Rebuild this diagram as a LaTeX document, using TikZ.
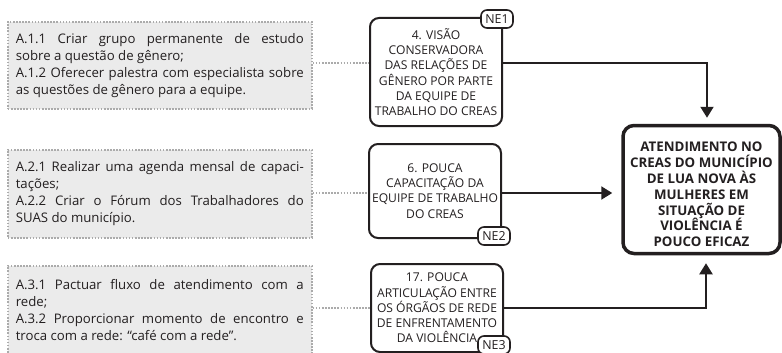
\documentclass[tikz,border=0pt]{standalone}
\usepackage{fontspec}
\setmainfont{Open Sans}
\usetikzlibrary{arrows.meta,calc}
\definecolor{boxgray}{HTML}{EBEBEB}
\definecolor{dotgray}{HTML}{ABABAB}
\definecolor{ink}{HTML}{231F20}
\begin{document}
\begin{tikzpicture}[x=1pt,y=-1pt,
  actbox/.style={draw=dotgray, fill=boxgray, line width=1.6pt, dash pattern=on 1.6pt off 1.5pt,
    anchor=north west, minimum width=304pt, text width=288pt, inner xsep=8pt, inner ysep=2pt,
    align=justify, text=ink, font=\fontsize{13.2}{17}\selectfont},
  nebox/.style={draw=ink, line width=2pt, rounded corners=9pt, anchor=north west,
    minimum width=132pt, align=center, inner sep=0.5pt, text=ink,
    font=\fontsize{12.1}{15.3}\selectfont},
  tagbox/.style={draw=ink, line width=1.6pt, fill=white, rounded corners=6pt,
    minimum width=32pt, minimum height=18pt, inner sep=0pt, text=ink,
    font=\fontsize{12.4}{12}\selectfont},
  mainbox/.style={draw=ink, line width=3.5pt, rounded corners=11pt,
    minimum width=157pt, minimum height=128pt, inner sep=0pt},
  maintext/.style={align=center, text=ink, font=\fontsize{13.3}{15.8}\selectfont\bfseries},
  dotline/.style={draw=dotgray, line width=1.6pt, dash pattern=on 1.6pt off 1.5pt},
  arr/.style={draw=ink, line width=2pt, -{Triangle[width=13pt,length=11pt]}}
]
\useasboundingbox (0,0) rectangle (782,353);

% left action boxes
\node[actbox, minimum height=87pt] (a1) at (7,21)
  {A.1.1 Criar grupo permanente de estudo\linebreak
   sobre a questão de gênero;\\
   A.1.2 Oferecer palestra com especialista sobre\linebreak
   as questões de gênero para a equipe.};
\node[actbox, minimum height=88pt] (a2) at (7,149)
  {A.2.1 Realizar uma agenda mensal de capaci-\linebreak
   tações;\\
   A.2.2 Criar o Fórum dos Trabalhadores do\linebreak
   SUAS do município.};
\node[actbox, minimum height=88pt] (a3) at (7,265)
  {A.3.1 Pactuar fluxo de atendimento com a\linebreak
   rede;\\
   A.3.2 Proporcionar momento de encontro e\linebreak
   troca com a rede: “café com a rede”.};

% problem nodes
\node[nebox, minimum height=108pt] (n1) at (369,17)
  {4. VISÃO\\CONSERVADORA\\DAS RELAÇÕES DE\\GÊNERO POR PARTE\\DA EQUIPE DE\\TRABALHO DO CREAS};
\node[nebox, minimum height=94pt] (n2) at (368,143)
  {6. POUCA\\CAPACITAÇÃO DA\\EQUIPE DE TRABALHO\\DO CREAS};
\node[nebox, minimum height=88pt] (n3) at (370,263)
  {17. POUCA\\ARTICULAÇÃO ENTRE\\OS ÓRGÃOS DE REDE\\DE ENFRENTAMENTO\\DA VIOLÊNCIA};

\node[tagbox] (t1) at (497,19) {NE1};
\node[tagbox] (t2) at (494,236) {NE2};
\node[tagbox] (t3) at (494,345) {NE3};

% main box
\node[mainbox] (m) at (701.5,189.5) {};
\node[maintext] (mt) at (701.5,194.5)
  {ATENDIMENTO NO\\CREAS DO MUNICÍPIO\\DE LUA NOVA ÀS\\MULHERES EM\\SITUAÇÃO DE\\VIOLÊNCIA É\\POUCO EFICAZ};

% connector levels
\coordinate (y1) at (0,63);
\coordinate (y2) at (0,193);
\coordinate (y3) at (0,308);
\coordinate (xa) at (707,0);
\coordinate (xb) at (706,0);

\draw[dotline] (a1.east |- y1) -- (n1.west |- y1);
\draw[dotline] (a2.east |- y2) -- (n2.west |- y2);
\draw[dotline] (a3.east |- y3) -- (n3.west |- y3);

\draw[arr, shorten >=6pt] (n1.east |- y1) -| (m.north -| xa);
\draw[arr, shorten >=9pt] (n2.east |- y2) -- (m.west |- y2);
\draw[arr, shorten >=8pt] (n3.east |- y3) -| (m.south -| xb);
\end{tikzpicture}
\end{document}
